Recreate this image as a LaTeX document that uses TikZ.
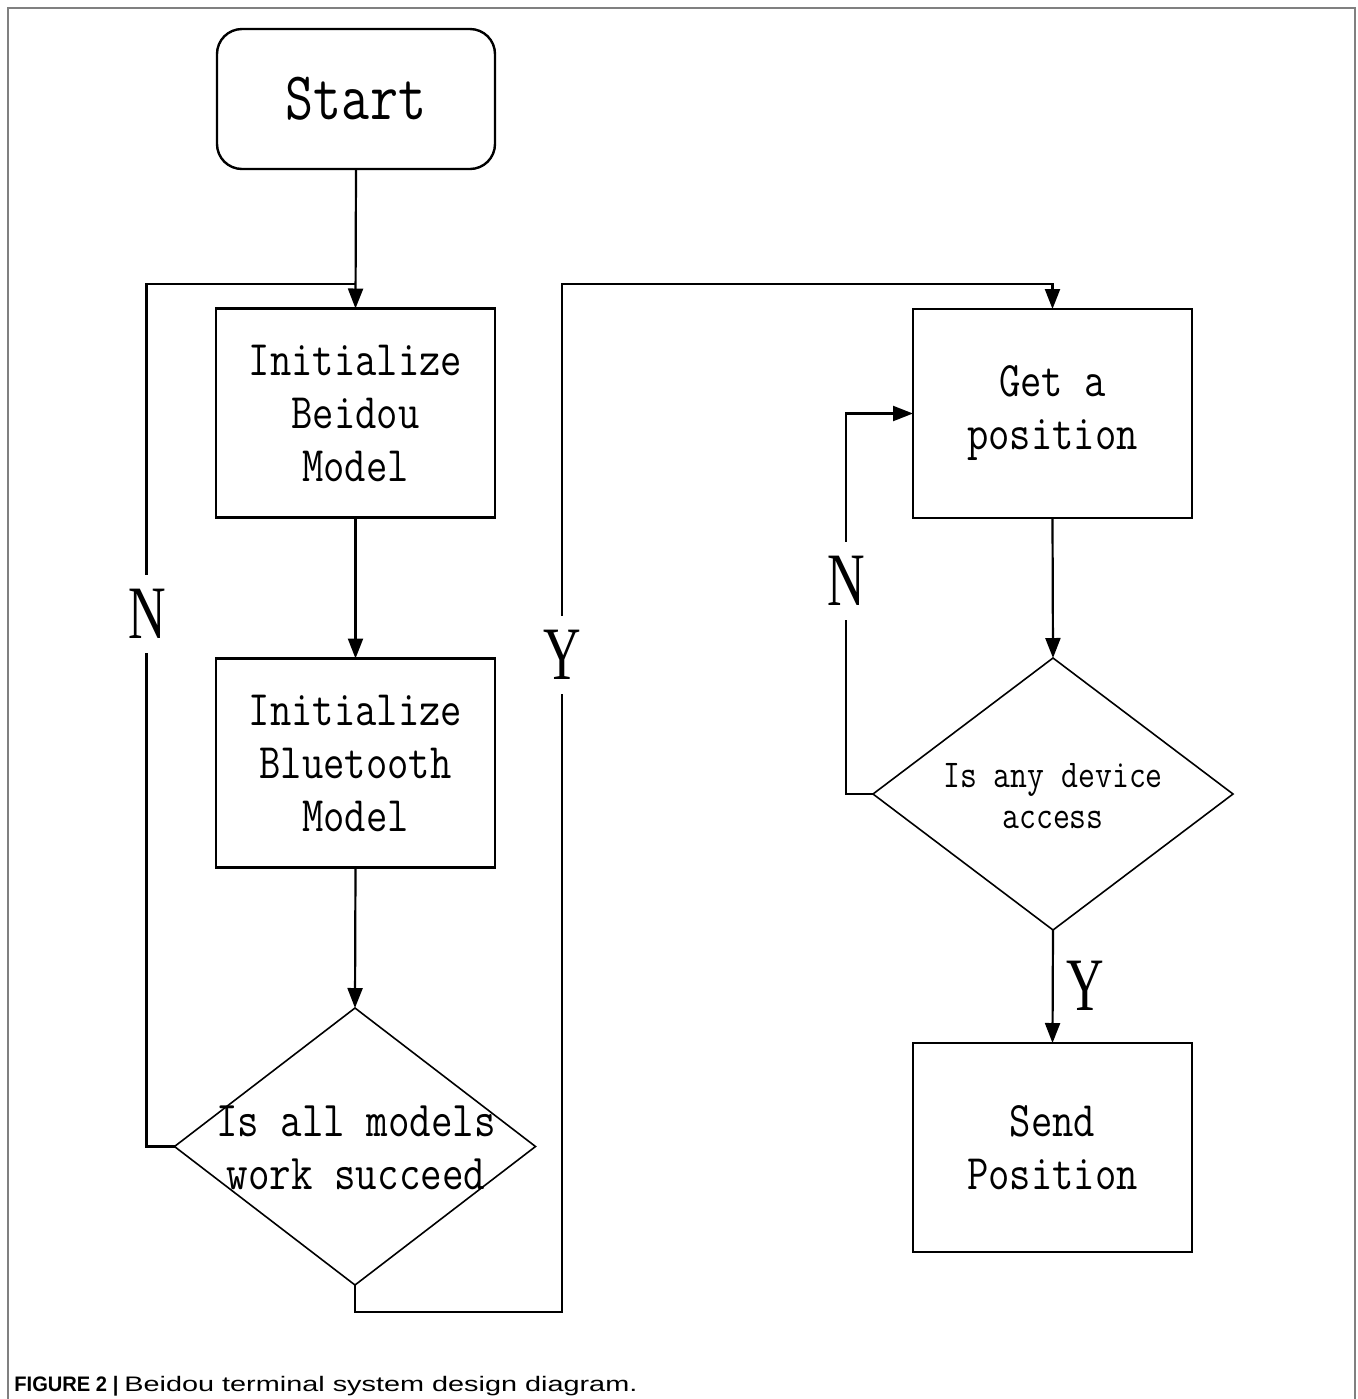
\documentclass[tikz,border=0pt]{standalone}
\usepackage{fontspec}
\newfontfamily\serifN{Liberation Serif}
\newfontfamily\capfont{Liberation Sans}
\usetikzlibrary{shapes.geometric,arrows.meta,calc}
\definecolor{framegray}{RGB}{128,128,128}
\newcommand\sq[1]{\scalebox{1}[1.2]{#1}}
\newcommand\sqs[1]{\scalebox{1}[1.25]{#1}}
\newcommand\tall[1]{\scalebox{1}[1.45]{#1}}
\begin{document}
\begin{tikzpicture}[x=0.5pt,y=-0.5pt,
  box/.style={draw, line width=1.1pt, rectangle, minimum width=139.5pt, minimum height=104.5pt, inner sep=0pt, outer sep=0pt, align=center, font=\ttfamily\fontsize{20.7}{26.5}\selectfont},
  startbox/.style={draw, line width=1.2pt, rectangle, rounded corners=12.5pt, minimum width=139pt, minimum height=70pt, inner sep=0pt, outer sep=0pt, font=\ttfamily\fontsize{27.2}{30}\selectfont},
  dia/.style={draw, line width=0.8pt, diamond, inner sep=0pt, outer sep=0pt},
  dtext/.style={align=center, inner sep=0pt, font=\ttfamily\fontsize{20.9}{26.5}\selectfont},
  dtexts/.style={align=center, inner sep=0pt, font=\ttfamily\fontsize{16.4}{20.5}\selectfont},
  line/.style={line width=1.1pt},
  arr/.style={line width=1.1pt, -{Triangle[length=10pt,width=7.5pt]}},
  yn/.style={font=\serifN\fontsize{26}{28}\selectfont, inner xsep=2pt},
  ynfill/.style={yn, fill=white, inner ysep=7pt},
  captext/.style={font=\capfont\fontsize{10.5}{12}\selectfont, inner sep=0pt, anchor=base west}
]
\useasboundingbox (0,0) rectangle (1358,1399);
% frame
\draw[framegray, line width=1pt] (8,1399) -- (8,8) -- (1355,8) -- (1355,1399);

% nodes
\node[startbox] (start) at (356,99) {\sqs{Start}};
\node[box] (b1) at (355.5,413) {\sq{Initialize}\\\sq{Beidou}\\\sq{Model}};
\node[box] (b2) at (355.5,763) {\sq{Initialize}\\\sq{Bluetooth}\\\sq{Model}};
\node[dia, minimum width=180.5pt, minimum height=138.5pt] (d1) at (355,1146.5) {};
\node[dtext] (d1t) at (356,1148) {\sq{Is all models}\\\sq{work succeed}};
\node[box] (gp) at (1052.5,413.5) {\sq{Get a}\\\sq{position}};
\node[dia, minimum width=180pt, minimum height=136pt] (d2) at (1053,794) {};
\node[dtexts] (d2t) at (1053,796) {\sq{Is any device}\\\sq{access}};
\node[box] (send) at (1052.5,1147.5) {\sq{Send}\\\sq{Position}};

\coordinate (j1) at (355.5,284);
\coordinate (yc) at (562,284);

% connectors
\draw[arr] (start.south) -- (b1.north);
\draw[arr] (b1.south) -- (b2.north);
\draw[arr] (b2.south) -- (d1.north);
\draw[line] (d1.west) -- ++(-28,0) |- (j1);
\draw[arr] (d1.south) -- ++(0,27) -| (yc) -| (gp.north);
\draw[arr] (gp.south) -- (d2.north);
\draw[arr] (d2.west) -- ++(-27,0) |- (gp.west);
\draw[arr] (d2.south) -- (send.north);

% labels
\node[ynfill] (n1) at (147,614) {\tall{N}};
\node[ynfill] (y1) at (562,655) {\tall{Y}};
\node[ynfill] (n2) at (846,581) {\tall{N}};
\node[yn] (y2) at (1085,986) {\tall{Y}};

% caption
\node[captext] (cap) at (14,1391) {\resizebox{52pt}{\height}{\textbf{FIGURE 2 |}}\hspace{3pt}\resizebox{256.5pt}{\height}{Beidou terminal system design diagram.}};
\end{tikzpicture}
\end{document}
